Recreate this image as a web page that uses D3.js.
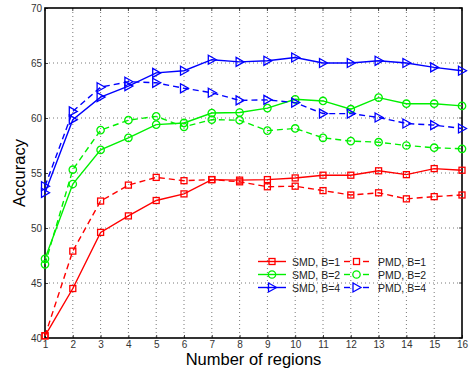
<!DOCTYPE html>
<head>
  <meta charset="utf-8">
  <script src="https://d3js.org/d3.v7.min.js"></script>
  <style>
    body { margin:0; background:#fff; }
    text { font-family: "Liberation Sans", Arial, sans-serif; }
  </style>
</head>
<body>
<script>
var width = 469, height = 369;
var margin = {top: 8, right: 7, bottom: 31, left: 45};

// number of regions on the x axis
var regions = [1,2,3,4,5,6,7,8,9,10,11,12,13,14,15,16];

var smdB1 = [40.2,44.5,49.6,51.1,52.5,53.1,54.4,54.35,54.4,54.55,54.8,54.8,55.2,54.85,55.4,55.25];
var pmdB1 = [40.2,47.9,52.45,53.9,54.6,54.3,54.4,54.2,53.75,53.8,53.4,53.0,53.2,52.65,52.85,53.0];
var smdB2 = [47.2,54.0,57.1,58.2,59.4,59.55,60.45,60.5,60.9,61.7,61.55,60.8,61.85,61.3,61.3,61.1];
var pmdB2 = [46.7,55.3,58.9,59.8,60.15,59.2,59.85,59.8,58.85,59.05,58.2,57.9,57.8,57.5,57.3,57.2];
var smdB4 = [53.2,59.85,61.9,62.9,64.1,64.3,65.3,65.1,65.2,65.5,65.0,65.0,65.2,65.0,64.6,64.3];
var pmdB4 = [53.8,60.6,62.8,63.3,63.2,62.7,62.3,61.6,61.65,61.4,60.4,60.4,60.05,59.5,59.35,59.05];

var yTicks = [40,45,50,55,60,65,70];

var series = [
  {name: "SMD, B=1", values: smdB1, color: "#ff0000", dash: null, marker: "square"},
  {name: "PMD, B=1", values: pmdB1, color: "#ff0000", dash: "6,4", marker: "square"},
  {name: "SMD, B=2", values: smdB2, color: "#00f000", dash: null, marker: "circle"},
  {name: "PMD, B=2", values: pmdB2, color: "#00f000", dash: "6,4", marker: "circle"},
  {name: "SMD, B=4", values: smdB4, color: "#0000ff", dash: null, marker: "triangle"},
  {name: "PMD, B=4", values: pmdB4, color: "#0000ff", dash: "6,4", marker: "triangle"}
];

var svg = d3.select("body").append("svg")
  .attr("width", width)
  .attr("height", height);

var w = width - margin.left - margin.right;
var h = height - margin.top - margin.bottom;

var g = svg.append("g").attr("transform", "translate(" + margin.left + "," + margin.top + ")");

var x = d3.scaleLinear().domain([1, 16]).range([0, w]);
var y = d3.scaleLinear().domain([40, 70]).range([h, 0]);

// dotted grid
g.append("g").selectAll("line").data(regions.slice(1, -1)).enter().append("line")
  .attr("x1", d => x(d)).attr("x2", d => x(d))
  .attr("y1", 0).attr("y2", h)
  .style("stroke", "#555").style("stroke-width", 0.8).style("stroke-dasharray", "1,3");
g.append("g").selectAll("line").data(yTicks.slice(1, -1)).enter().append("line")
  .attr("x1", 0).attr("x2", w)
  .attr("y1", d => y(d)).attr("y2", d => y(d))
  .style("stroke", "#555").style("stroke-width", 0.8).style("stroke-dasharray", "1,3");

// axes with ticks pointing inward
var xAxis = g.append("g").attr("transform", "translate(0," + h + ")")
  .call(d3.axisBottom(x).tickValues(regions).tickSize(-3).tickPadding(3).tickFormat(d3.format("d")));
var yAxis = g.append("g")
  .call(d3.axisLeft(y).tickValues(yTicks).tickSize(-3).tickPadding(3));
[xAxis, yAxis].forEach(function(a) {
  a.select(".domain").remove();
  a.selectAll("line").style("stroke", "#444");
  a.selectAll("text").style("font-size", "10px").style("fill", "#333")
    .style("font-family", "'Liberation Sans', Arial, sans-serif");
});
// top/right ticks
g.append("g").selectAll("line").data(regions).enter().append("line")
  .attr("x1", d => x(d)).attr("x2", d => x(d)).attr("y1", 0).attr("y2", 3).style("stroke", "#444");
g.append("g").selectAll("line").data(yTicks).enter().append("line")
  .attr("x1", w).attr("x2", w - 3).attr("y1", d => y(d)).attr("y2", d => y(d)).style("stroke", "#444");

g.append("rect").attr("width", w).attr("height", h)
  .style("fill", "none").style("stroke", "#000").style("stroke-width", 1.6);

var line = d3.line().x((d, i) => x(regions[i])).y(d => y(d));

function drawMarker(sel, type, color) {
  if (type === "square") {
    sel.append("rect").attr("x", -3).attr("y", -3).attr("width", 6).attr("height", 6);
  } else if (type === "circle") {
    sel.append("circle").attr("r", 3.7);
  } else {
    sel.append("path").attr("d", "M-3.5,-4.5L4.5,0L-3.5,4.5Z");
  }
  sel.style("fill", "none").style("stroke", color).style("stroke-width", 1.3);
}

series.forEach(function(s) {
  g.append("path").datum(s.values)
    .attr("d", line)
    .style("fill", "none")
    .style("stroke", s.color)
    .style("stroke-width", 1.4)
    .style("stroke-dasharray", s.dash);
  g.append("g").selectAll("g").data(s.values).enter().append("g")
    .attr("transform", (d, i) => "translate(" + x(regions[i]) + "," + y(d) + ")")
    .each(function() { drawMarker(d3.select(this), s.marker, s.color); });
});

// legend, two columns: solid keys on the left, dashed on the right
var legend = svg.append("g");
series.forEach(function(s, i) {
  var col = i % 2, row = Math.floor(i / 2);
  var lx = 258 + col * 86, ly = 261.5 + row * 13;
  var item = legend.append("g").attr("transform", "translate(" + lx + "," + ly + ")");
  var segs = col ? [[0, 6], [19, 25]] : [[0, 28]];
  segs.forEach(function(sg) {
    item.append("line").attr("x1", sg[0]).attr("x2", sg[1]).attr("y1", 0).attr("y2", 0)
      .style("stroke", s.color).style("stroke-width", 1.4);
  });
  drawMarker(item.append("g").attr("transform", "translate(" + (col ? 12.5 : 14) + ",0)"), s.marker, s.color);
  item.append("text").attr("x", 34).attr("y", 4)
    .style("font-size", "10.5px").style("fill", "#222").text(s.name);
});

svg.append("text")
  .attr("x", margin.left + w / 2).attr("y", 365)
  .attr("text-anchor", "middle").style("font-size", "16.5px")
  .text("Number of regions");
svg.append("text")
  .attr("transform", "translate(25," + (margin.top + h / 2) + ")rotate(-90)")
  .attr("text-anchor", "middle").style("font-size", "16.5px")
  .text("Accuracy");
</script>
</body>
</html>
